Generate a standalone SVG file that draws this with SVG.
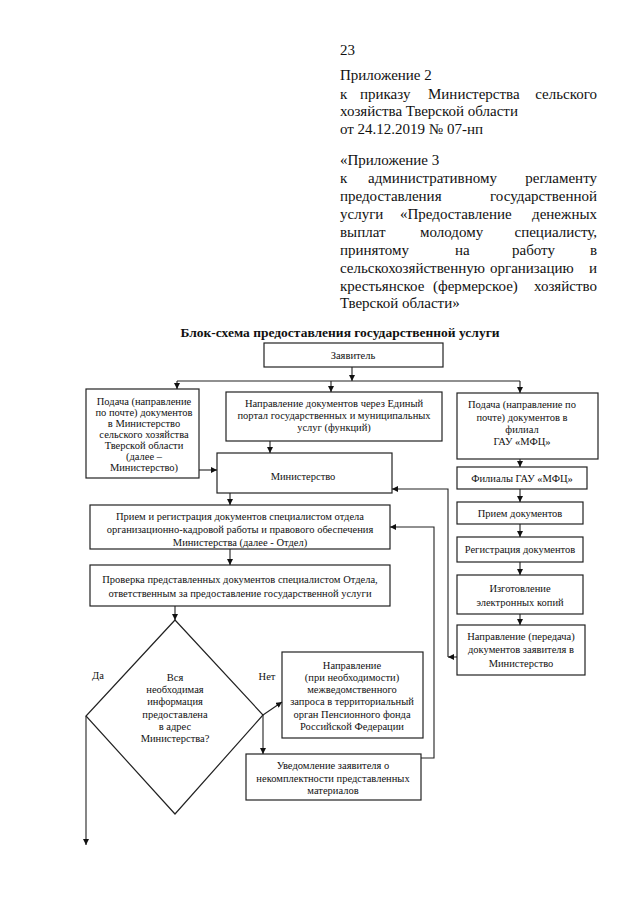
<svg xmlns="http://www.w3.org/2000/svg" width="640" height="905" viewBox="0 0 640 905">
<style>
text{font-family:"Liberation Serif","Times New Roman",serif;fill:#111}
.h{font-size:15px}
.t{font-size:13.5px;font-weight:bold}
.b{font-size:10.5px;text-anchor:middle}
.box{fill:#fff;stroke:#222;stroke-width:1.2}
.c{fill:none;stroke:#222;stroke-width:1.1}
</style>
<defs>
<marker id="ah" viewBox="0 0 8 8" refX="8" refY="4" markerWidth="6" markerHeight="6" markerUnits="userSpaceOnUse" orient="auto">
<path d="M0,0 L8,4 L0,8 Z" fill="#111"/>
</marker>
</defs>
<g id="header">
<text class="h" x="340" y="55">23</text>
<text class="h" x="340" y="80">Приложение 2</text>
<text class="h" x="340" y="99">к</text><text class="h" x="360" y="99">приказу</text><text class="h" x="428" y="99">Министерства</text><text class="h" x="597" y="99" text-anchor="end">сельского</text>
<text class="h" x="340" y="116">хозяйства Тверской области</text>
<text class="h" x="340" y="134">от 24.12.2019 № 07-нп</text>
<text class="h" x="340" y="165">«Приложение 3</text>
<text class="h" x="340" y="183">к</text><text class="h" x="368" y="183">административному</text><text class="h" x="597" y="183" text-anchor="end">регламенту</text>
<text class="h" x="340" y="201">предоставления</text><text class="h" x="597" y="201" text-anchor="end">государственной</text>
<text class="h" x="340" y="219">услуги</text><text class="h" x="400" y="219">«Предоставление</text><text class="h" x="597" y="219" text-anchor="end">денежных</text>
<text class="h" x="340" y="237">выплат</text><text class="h" x="420" y="237">молодому</text><text class="h" x="597" y="237" text-anchor="end">специалисту,</text>
<text class="h" x="340" y="255">принятому</text><text class="h" x="455" y="255">на</text><text class="h" x="512" y="255">работу</text><text class="h" x="597" y="255" text-anchor="end">в</text>
<text class="h" x="340" y="273">сельскохозяйственную</text><text class="h" x="490" y="273">организацию</text><text class="h" x="597" y="273" text-anchor="end">и</text>
<text class="h" x="340" y="291">крестьянское</text><text class="h" x="433" y="291">(фермерское)</text><text class="h" x="597" y="291" text-anchor="end">хозяйство</text>
<text class="h" x="340" y="308">Тверской области»</text>
</g>
<g id="title"><text class="t" x="340" y="337" text-anchor="middle">Блок-схема предоставления государственной услуги</text></g>
<g id="n_applicant"><rect class="box" x="264" y="343" width="179" height="24"/><text class="b" x="353" y="359">Заявитель</text></g>
<g id="n_post_ministry"><rect class="box" x="86" y="389" width="113" height="89"/>
<text class="b" x="144" y="405">Подача (направление</text><text class="b" x="144" y="416">по почте) документов</text><text class="b" x="144" y="427">в Министерство</text><text class="b" x="144" y="438">сельского хозяйства</text><text class="b" x="144" y="449">Тверской области</text><text class="b" x="144" y="460">(далее –</text><text class="b" x="144" y="471">Министерство)</text></g>
<g id="n_portal"><rect class="box" x="226" y="392" width="216" height="49"/>
<text class="b" x="334" y="407">Направление документов через Единый</text><text class="b" x="334" y="419">портал государственных и муниципальных</text><text class="b" x="334" y="431">услуг (функций)</text></g>
<g id="n_post_mfc"><rect class="box" x="457" y="393" width="141" height="66"/>
<text class="b" x="522" y="408">Подача (направление по</text><text class="b" x="522" y="421">почте) документов в</text><text class="b" x="522" y="433">филиал</text><text class="b" x="522" y="445">ГАУ «МФЦ»</text></g>
<g id="n_ministry"><rect class="box" x="217" y="453" width="175" height="40"/><text class="b" x="303" y="480">Министерство</text></g>
<g id="n_mfc"><rect class="box" x="457" y="467" width="130" height="22"/><text class="b" x="522" y="482">Филиалы ГАУ «МФЦ»</text></g>
<g id="n_receive"><rect class="box" x="457" y="502" width="126" height="22"/><text class="b" x="520" y="517">Прием документов</text></g>
<g id="n_register"><rect class="box" x="457" y="537" width="126" height="25"/><text class="b" x="520" y="553">Регистрация документов</text></g>
<g id="n_copies"><rect class="box" x="457" y="575" width="126" height="39"/><text class="b" x="520" y="592">Изготовление</text><text class="b" x="520" y="606">электронных копий</text></g>
<g id="n_send"><rect class="box" x="457" y="625" width="128" height="50"/><text class="b" x="521" y="640">Направление (передача)</text><text class="b" x="521" y="653">документов заявителя в</text><text class="b" x="521" y="667">Министерство</text></g>
<g id="n_reception"><rect class="box" x="90" y="505" width="300" height="44"/>
<text class="b" x="240" y="520">Прием и регистрация документов специалистом отдела</text><text class="b" x="240" y="533">организационно-кадровой работы и правового обеспечения</text><text class="b" x="240" y="546">Министерства (далее - Отдел)</text></g>
<g id="n_check"><rect class="box" x="90" y="565" width="300" height="41"/>
<text class="b" x="240" y="583">Проверка представленных документов специалистом Отдела,</text><text class="b" x="240" y="597">ответственным за предоставление государственной услуги</text></g>
<g id="n_decision"><path class="box" d="M175,620 L263,715 L175,814 L86,716 Z"/>
<text class="b" x="175" y="681">Вся</text><text class="b" x="175" y="693">необходимая</text><text class="b" x="175" y="705">информация</text><text class="b" x="175" y="718">предоставлена</text><text class="b" x="175" y="730">в адрес</text><text class="b" x="175" y="742">Министерства?</text></g>
<g id="n_pension"><rect class="box" x="282" y="652" width="141" height="86"/>
<text class="b" x="352" y="669">Направление</text><text class="b" x="352" y="681">(при необходимости)</text><text class="b" x="352" y="693">межведомственного</text><text class="b" x="352" y="705">запроса в территориальный</text><text class="b" x="352" y="718">орган Пенсионного фонда</text><text class="b" x="352" y="730">Российской Федерации</text></g>
<g id="n_notify"><rect class="box" x="246" y="754" width="175" height="46"/>
<text class="b" x="333" y="769">Уведомление заявителя о</text><text class="b" x="333" y="782">некомплектности представленных</text><text class="b" x="333" y="794">материалов</text></g>
<g id="labels"><text class="b" x="98" y="679">Да</text><text class="b" x="267" y="680">Нет</text></g>
<g id="connectors">
<path class="c" d="M352,367 V381" marker-end="url(#ah)"/>
<path class="c" d="M177,381 H520"/>
<path class="c" d="M177,381 V389" marker-end="url(#ah)"/>
<path class="c" d="M331,381 V392" marker-end="url(#ah)"/>
<path class="c" d="M520,381 V393" marker-end="url(#ah)"/>
<path class="c" d="M199,470 H217" marker-end="url(#ah)"/>
<path class="c" d="M270,441 V453" marker-end="url(#ah)"/>
<path class="c" d="M230,493 V505" marker-end="url(#ah)"/>
<path class="c" d="M230,549 V565" marker-end="url(#ah)"/>
<path class="c" d="M175,606 V620" marker-end="url(#ah)"/>
<path class="c" d="M520,459 V467" marker-end="url(#ah)"/>
<path class="c" d="M520,489 V502" marker-end="url(#ah)"/>
<path class="c" d="M520,524 V537" marker-end="url(#ah)"/>
<path class="c" d="M520,562 V575" marker-end="url(#ah)"/>
<path class="c" d="M520,614 V625" marker-end="url(#ah)"/>
<path class="c" d="M457,657 H448" marker-end="url(#ah)"/>
<path class="c" d="M448,657 V489 H392" marker-end="url(#ah)"/>
<path class="c" d="M421,758 H434 V527 H390" marker-end="url(#ah)"/>
<path class="c" d="M86,716 V845" marker-end="url(#ah)"/>
<path class="c" d="M263,715 L282,702" marker-end="url(#ah)"/>
<path class="c" d="M263,715 V754" marker-end="url(#ah)"/>
</g>
</svg>
